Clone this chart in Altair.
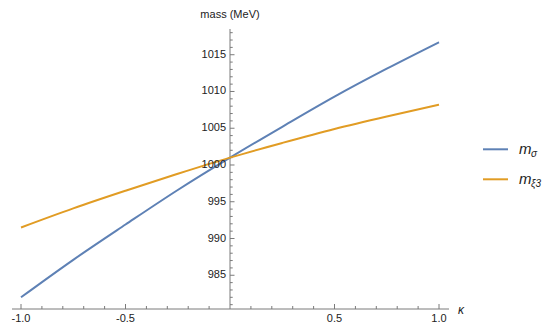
import altair as alt
import pandas as pd

# ---- data ----
kappa = [-1.0, -0.75, -0.5, -0.25, 0.0, 0.25, 0.5, 0.75, 1.0]
m_sigma = [982.0, 987.1, 991.9, 996.6, 1001.0, 1005.2, 1009.3, 1013.1, 1016.7]
m_xi3 = [991.5, 994.1, 996.5, 998.8, 1001.0, 1003.0, 1004.9, 1006.6, 1008.2]
series = ["m_sigma", "m_xi3"]
colors = ["#5E81B5", "#E19C24"]

y_major = [985, 990, 995, 1000, 1005, 1010, 1015]
y_major_labels = ["985", "990", "995", "1000", "1005", "1010", "1015"]
y_minor = [v for v in range(981, 1019) if v % 5 != 0]
x_major = [-1.0, -0.5, 0.5, 1.0]
x_major_labels = ["-1.0", "-0.5", "0.5", "1.0"]
x_minor = [round(-1.0 + 0.1 * i, 1) for i in range(21) if i % 5 != 0]

XD = [-1.0431, 1.0478]
YD = [980.41, 1018.50]
W, H = 437, 280
AX = "#7a7a7a"
LAB = "#222222"
FONT = "Liberation Sans"

xs = alt.Scale(domain=XD, nice=False, zero=False)
ys = alt.Scale(domain=YD, nice=False, zero=False)
px_per_k = W / (XD[1] - XD[0])
px_per_m = H / (YD[1] - YD[0])

df = pd.concat([
    pd.DataFrame({"kappa": kappa, "mass": m_sigma, "series": series[0]}),
    pd.DataFrame({"kappa": kappa, "mass": m_xi3, "series": series[1]}),
])

X = lambda f: alt.X(f, scale=xs, axis=None)
Y = lambda f: alt.Y(f, scale=ys, axis=None)

lines = alt.Chart(df).mark_line(strokeWidth=2, interpolate="monotone").encode(
    x=X("kappa:Q"), y=Y("mass:Q"),
    color=alt.Color("series:N", scale=alt.Scale(domain=series, range=colors), legend=None),
)

yaxis = alt.Chart(pd.DataFrame({"x": [0.0], "y": [YD[0]], "y2": [YD[1]]})).mark_rule(
    color=AX, strokeWidth=1).encode(x=X("x:Q"), y=Y("y:Q"), y2="y2:Q")
xaxis = alt.Chart(pd.DataFrame({"x": [XD[0]], "x2": [XD[1]], "y": [YD[0]]})).mark_rule(
    color=AX, strokeWidth=1).encode(x=X("x:Q"), x2="x2:Q", y=Y("y:Q"))

ytick_df = pd.concat([
    pd.DataFrame({"y": y_major, "x": 0.0, "x2": 4.5 / px_per_k}),
    pd.DataFrame({"y": y_minor, "x": 0.0, "x2": 2.7 / px_per_k}),
])
yticks = alt.Chart(ytick_df).mark_rule(color=AX, strokeWidth=1).encode(
    x=X("x:Q"), x2="x2:Q", y=Y("y:Q"))

xtick_df = pd.concat([
    pd.DataFrame({"x": x_major, "y": YD[0], "y2": YD[0] + 5 / px_per_m}),
    pd.DataFrame({"x": x_minor, "y": YD[0], "y2": YD[0] + 3 / px_per_m}),
])
xticks = alt.Chart(xtick_df).mark_rule(color=AX, strokeWidth=1).encode(
    x=X("x:Q"), y=Y("y:Q"), y2="y2:Q")

ylabels = alt.Chart(pd.DataFrame({"y": y_major, "x": 0.0, "t": y_major_labels})).mark_text(
    align="right", baseline="middle", dx=-4, fontSize=11, font=FONT, color=LAB).encode(
    x=X("x:Q"), y=Y("y:Q"), text="t:N")
xlabels = alt.Chart(pd.DataFrame({"x": x_major, "y": YD[0], "t": x_major_labels})).mark_text(
    align="center", baseline="top", dy=4, fontSize=11, font=FONT, color=LAB).encode(
    x=X("x:Q"), y=Y("y:Q"), text="t:N")

ytitle = alt.Chart(pd.DataFrame({"x": [0.0], "y": [YD[1]], "t": ["mass (MeV)"]})).mark_text(
    align="center", baseline="middle", dy=-14, fontSize=11, font=FONT, color=LAB).encode(
    x=X("x:Q"), y=Y("y:Q"), text="t:N")
xtitle = alt.Chart(pd.DataFrame({"x": [XD[1]], "y": [YD[0]], "t": ["κ"]})).mark_text(
    align="left", baseline="middle", dx=9, dy=1, fontSize=12, fontStyle="italic",
    font=FONT, color=LAB).encode(x=X("x:Q"), y=Y("y:Q"), text="t:N")

# ---- legend ----
leg = []
base = alt.Chart(pd.DataFrame({"a": [0]}))
rows = [(series[0], colors[0], 120.3, 125.3, "σ"), (series[1], colors[1], 150.3, 155.3, "ξ3")]
for name, col, ly, tb, sub in rows:
    leg.append(base.mark_rule(color=col, strokeWidth=2).encode(
        x=alt.value(471), x2=alt.value(496), y=alt.value(ly)))
    leg.append(base.mark_text(align="left", baseline="alphabetic", fontSize=15,
                              fontStyle="italic", font=FONT, color="#222", text="m").encode(
        x=alt.value(507), y=alt.value(tb)))
    leg.append(base.mark_text(align="left", baseline="alphabetic", fontSize=10,
                              fontStyle="italic", font=FONT, color="#222", text=sub).encode(
        x=alt.value(519), y=alt.value(tb + 3)))

chart = alt.layer(
    yaxis, xaxis, yticks, xticks, lines, ylabels, xlabels, ytitle, xtitle, *leg
).properties(
    width=W, height=H,
    padding={"left": 4, "top": 21, "right": 93, "bottom": 15},
    autosize=alt.AutoSizeParams(type="none"),
    background="white",
).configure_view(stroke=None)

chart.save("out.html", embed_options={"renderer": "svg", "actions": False})
